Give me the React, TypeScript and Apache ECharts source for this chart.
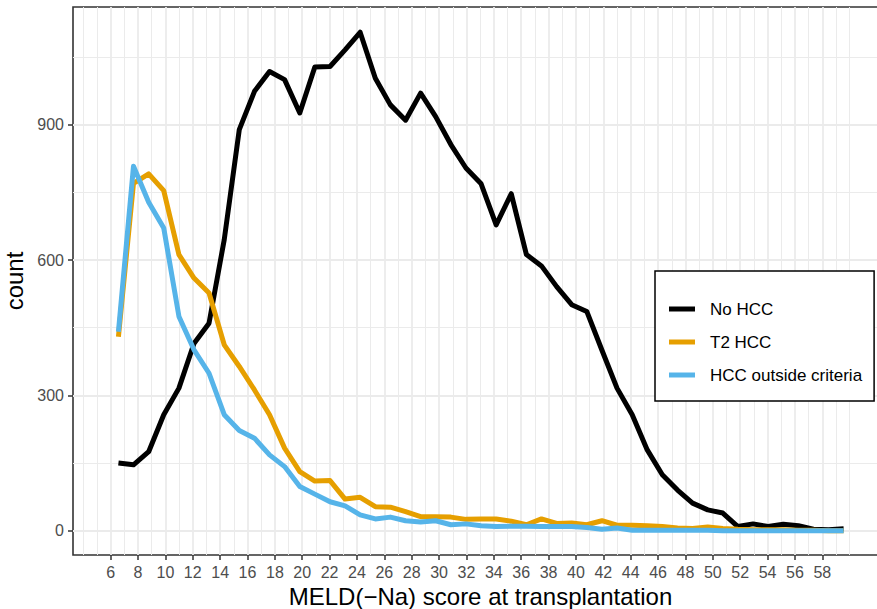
import React, { useEffect, useRef } from "react";
import * as echarts from "echarts";

// Bin centres of the frequency polygon (MELD(-Na) score)
const meldScore = [
  6.57, 7.67, 8.78, 9.88, 10.99, 12.09, 13.19, 14.3, 15.4, 16.51, 17.61, 18.71,
  19.82, 20.92, 22.03, 23.13, 24.23, 25.34, 26.44, 27.55, 28.65, 29.75, 30.86,
  31.96, 33.07, 34.17, 35.27, 36.38, 37.48, 38.59, 39.69, 40.79, 41.9, 43.0,
  44.11, 45.21, 46.31, 47.42, 48.52, 49.63, 50.73, 51.83, 52.94, 54.04, 55.15,
  56.25, 57.35, 58.46, 59.56,
];

const noHcc = [
  150, 146, 175, 257, 316, 415, 460, 645, 889, 974, 1018, 1000, 926, 1028, 1029,
  1066, 1105, 1003, 944, 910, 970, 918, 856, 804, 769, 678, 747, 612, 587, 541,
  501, 486, 400, 316, 257, 179, 124, 90, 61, 46, 39, 9, 15, 9, 14, 11, 3, 2, 4,
];

const t2Hcc = [
  430, 770, 791, 754, 612, 560, 527, 412, 364, 312, 257, 183, 131, 110, 111, 70,
  74, 53, 52, 42, 31, 31, 30, 25, 26, 26, 21, 13, 26, 16, 17, 13, 22, 12, 12, 11,
  9, 6, 5, 8, 5, 3, 2, 2, 2, 1, 1, 0, 0,
];

const hccOutside = [
  441, 808, 728, 671, 475, 401, 349, 257, 222, 205, 168, 142, 98, 81, 64, 55, 35,
  26, 30, 22, 19, 22, 13, 15, 11, 9, 10, 10, 9, 9, 9, 7, 3, 6, 1, 1, 1, 1, 1, 1,
  0, 0, 0, 0, 0, 0, 0, 0, 0,
];

const seriesNames = ["No HCC", "T2 HCC", "HCC outside criteria"];
const seriesColors = ["#000000", "#E69F00", "#56B4E9"];

const xTicks = [
  6, 8, 10, 12, 14, 16, 18, 20, 22, 24, 26, 28, 30, 32, 34, 36, 38, 40, 42, 44,
  46, 48, 50, 52, 54, 56, 58,
];
const xMinorGrid = [
  4, 5, 7, 9, 11, 13, 15, 17, 19, 21, 23, 25, 27, 29, 31, 33, 35, 37, 39, 41, 43,
  45, 47, 49, 51, 53, 55, 57, 59, 60,
];
const yTicks = [0, 300, 600, 900];
const yMinorGrid = [150, 450, 750, 1050];

const FONT = "'Liberation Sans', Arial, Helvetica, sans-serif";
const GRID_COLOR = "#EBEBEB";

export default function App() {
  const ref = useRef<HTMLDivElement>(null);

  useEffect(() => {
    if (!ref.current) return;
    const chart = echarts.init(ref.current, null, { renderer: "svg" });

    const gridLines: any[] = [
      ...xMinorGrid.map((v) => ({ xAxis: v, lineStyle: { color: GRID_COLOR, width: 1, type: "solid" } })),
      ...xTicks.map((v) => ({ xAxis: v, lineStyle: { color: GRID_COLOR, width: 1.8, type: "solid" } })),
      ...yMinorGrid.map((v) => ({ yAxis: v, lineStyle: { color: GRID_COLOR, width: 1, type: "solid" } })),
      ...yTicks.map((v) => ({ yAxis: v, lineStyle: { color: GRID_COLOR, width: 1.8, type: "solid" } })),
    ];

    const valueSets = [noHcc, t2Hcc, hccOutside];

    chart.setOption({
      animation: false,
      textStyle: { fontFamily: FONT },
      grid: {
        left: 73,
        top: 7,
        right: -11,
        bottom: 54,
        show: true,
        backgroundColor: "#ffffff",
        borderColor: "#333333",
        borderWidth: 1.6,
        containLabel: false,
        outerBoundsMode: "none",
      },
      legend: {
        data: seriesNames,
        orient: "vertical",
        left: 655,
        top: 271,
        padding: [28, 12, 16, 14],
        itemWidth: 26,
        itemHeight: 5,
        itemGap: 13,
        icon: "rect",
        backgroundColor: "#ffffff",
        borderColor: "#000000",
        borderWidth: 1.5,
        textStyle: {
          fontFamily: FONT,
          fontSize: 17,
          lineHeight: 20,
          color: "#000000",
          padding: [0, 0, 0, 10],
        },
      },
      xAxis: {
        type: "value",
        min: 3.25,
        max: 62.8,
        name: "MELD(\u2212Na) score at transplantation",
        nameLocation: "middle",
        nameGap: 29,
        nameTextStyle: { fontFamily: FONT, fontSize: 24, color: "#000000" },
        axisLine: { show: false, onZero: false },
        axisTick: {
          show: true,
          length: 5,
          customValues: xTicks,
          lineStyle: { color: "#333333", width: 1.5 },
        },
        axisLabel: {
          customValues: xTicks,
          fontFamily: FONT,
          fontSize: 16,
          color: "#4D4D4D",
          margin: 9,
        },
        splitLine: { show: false },
      },
      yAxis: {
        type: "value",
        min: -54,
        max: 1161,
        name: "count",
        nameLocation: "middle",
        nameGap: 43,
        nameRotate: 90,
        nameTextStyle: { fontFamily: FONT, fontSize: 24, color: "#000000" },
        axisLine: { show: false },
        axisTick: {
          show: true,
          length: 5,
          customValues: yTicks,
          lineStyle: { color: "#333333", width: 1.5 },
        },
        axisLabel: {
          customValues: yTicks,
          fontFamily: FONT,
          fontSize: 16,
          color: "#4D4D4D",
          margin: 9,
        },
        splitLine: { show: false },
      },
      series: [
        {
          type: "line",
          name: "__grid",
          data: [],
          silent: true,
          z: 1,
          markLine: {
            silent: true,
            z: 1,
            symbol: ["none", "none"],
            label: { show: false },
            emphasis: { disabled: true },
            data: gridLines,
          },
        },
        ...seriesNames.map((name, k) => ({
          type: "line",
          name,
          data: meldScore.map((x, i) => [x, valueSets[k][i]]),
          showSymbol: false,
          symbol: "none",
          color: seriesColors[k],
          itemStyle: { color: seriesColors[k] },
          lineStyle: { color: seriesColors[k], width: 5, cap: "butt", join: "round" },
          z: 3 + k,
        })),
      ],
    });

    return () => chart.dispose();
  }, []);

  return (
    <div
      ref={ref}
      style={{ position: "absolute", left: 0, top: 0, width: 877, height: 609 }}
    />
  );
}
